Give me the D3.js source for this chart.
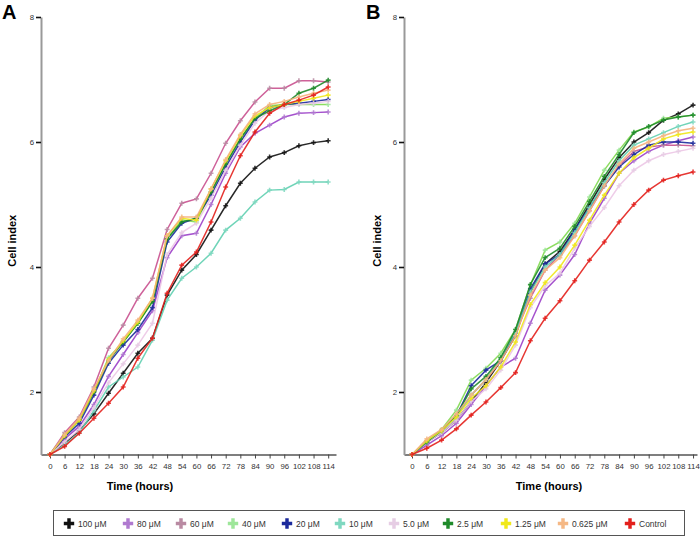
<!DOCTYPE html>
<html><head><meta charset="utf-8">
<script src="https://cdn.jsdelivr.net/npm/d3@7"></script>
<style>body{margin:0;background:#fff;} svg{display:block;font-family:"Liberation Sans",Arial,sans-serif;}</style>
</head><body><svg id="c" width="700" height="539"></svg>
<script>
const times = [0,6,12,18,24,30,36,42,48,54,60,66,72,78,84,90,96,102,108,114];
const seriesNames = ["100 \u03bcM","80 \u03bcM","60 \u03bcM","40 \u03bcM","20 \u03bcM","10 \u03bcM","5.0 \u03bcM","2.5 \u03bcM","1.25 \u03bcM","0.625 \u03bcM","Control"];
const lineColors = ["#111111","#9b3fc8","#c9508e","#7fd94f","#1c2a9c","#5fcfb0","#ecc6e6","#1f8a2a","#f0e81a","#f5b07a","#e3201c"];
const markerColors = ["#111111","#b07ad0","#b98aa2","#9ee69a","#1c2a9c","#7fd8c0","#e6cde4","#1f8a2a","#f0e81a","#f5b885","#e3201c"];
const yTicks = [2,4,6,8];
const xTicks = times;

const panelA = [
 [1.0,1.18,1.38,1.65,1.98,2.3,2.62,2.86,3.55,3.95,4.2,4.59,4.98,5.34,5.58,5.76,5.83,5.94,5.99,6.02],
 [1.0,1.25,1.45,1.8,2.25,2.6,2.95,3.3,4.15,4.5,4.54,5.0,5.5,5.92,6.14,6.27,6.4,6.46,6.47,6.48],
 [1.0,1.35,1.6,2.08,2.7,3.07,3.5,3.82,4.6,5.02,5.09,5.5,5.98,6.34,6.64,6.86,6.86,6.98,6.98,6.96],
 [1.0,1.3,1.55,2.0,2.55,2.8,3.1,3.45,4.45,4.75,4.72,5.2,5.65,6.05,6.38,6.58,6.6,6.6,6.6,6.6],
 [1.0,1.28,1.5,1.95,2.46,2.75,3.0,3.35,4.4,4.7,4.78,5.15,5.6,6.0,6.35,6.55,6.6,6.62,6.65,6.68],
 [1.0,1.15,1.35,1.7,2.08,2.24,2.4,2.83,3.47,3.82,4.0,4.22,4.59,4.78,5.04,5.23,5.24,5.36,5.36,5.36],
 [1.0,1.2,1.4,1.75,2.15,2.45,2.75,3.1,4.2,4.55,4.7,5.1,5.55,5.95,6.3,6.5,6.55,6.6,6.62,6.65],
 [1.0,1.3,1.55,2.0,2.5,2.8,3.1,3.45,4.45,4.72,4.78,5.2,5.65,6.05,6.38,6.5,6.6,6.78,6.86,6.99],
 [1.0,1.3,1.55,2.02,2.52,2.82,3.12,3.5,4.5,4.78,4.75,5.25,5.7,6.1,6.42,6.55,6.6,6.65,6.7,6.75],
 [1.0,1.32,1.58,2.05,2.5,2.85,3.15,3.5,4.5,4.8,4.8,5.25,5.72,6.12,6.45,6.6,6.65,6.72,6.78,6.83],
 [1.0,1.13,1.34,1.58,1.82,2.08,2.54,2.86,3.58,4.03,4.24,4.72,5.28,5.78,6.16,6.46,6.6,6.67,6.75,6.88]
];
const panelB = [
 [1.0,1.2,1.35,1.55,1.85,2.15,2.5,2.9,3.6,4.05,4.25,4.6,5.0,5.4,5.75,6.0,6.15,6.35,6.45,6.59],
 [1.0,1.15,1.3,1.5,1.8,2.1,2.4,2.54,3.1,3.63,3.87,4.2,4.7,5.1,5.5,5.7,5.85,5.95,6.02,6.08],
 [1.0,1.2,1.38,1.62,1.95,2.2,2.5,2.95,3.5,3.95,4.2,4.5,4.9,5.3,5.62,5.85,5.92,5.95,5.95,5.94],
 [1.0,1.22,1.4,1.71,2.19,2.38,2.62,3.0,3.71,4.27,4.4,4.7,5.12,5.55,5.87,6.16,6.24,6.38,6.4,6.43],
 [1.0,1.2,1.38,1.62,2.1,2.35,2.5,2.95,3.65,4.05,4.2,4.6,4.95,5.3,5.6,5.8,5.95,6.0,6.0,5.98],
 [1.0,1.2,1.38,1.6,1.95,2.2,2.55,2.95,3.6,4.0,4.2,4.55,4.95,5.35,5.7,5.95,6.05,6.15,6.25,6.32],
 [1.0,1.2,1.35,1.55,1.85,2.05,2.35,2.75,3.35,3.7,3.9,4.3,4.65,4.95,5.3,5.55,5.7,5.8,5.85,5.9],
 [1.0,1.2,1.38,1.62,2.05,2.25,2.55,3.0,3.72,4.15,4.3,4.65,5.05,5.45,5.8,6.15,6.25,6.35,6.4,6.43],
 [1.0,1.22,1.38,1.6,1.9,2.1,2.4,2.8,3.4,3.75,4.0,4.35,4.75,5.15,5.5,5.75,5.9,6.05,6.12,6.16],
 [1.0,1.25,1.4,1.65,1.95,2.2,2.5,2.9,3.55,3.95,4.15,4.5,4.9,5.3,5.65,5.9,6.0,6.1,6.18,6.22],
 [1.0,1.1,1.23,1.41,1.63,1.84,2.07,2.31,2.82,3.18,3.46,3.78,4.11,4.4,4.72,5.0,5.23,5.39,5.46,5.52]
];

const svg = d3.select("#c");

function panel(data, letter, xr, letterX, ylabX, tlabX){
  const x = d3.scaleLinear().domain([xr.d0, xr.d1]).range([xr.r0, xr.r1]);
  const y = d3.scaleLinear().domain([1,8]).range([454.5,17]);
  const g = svg.append("g");
  const xa = g.append("g").attr("transform",`translate(0,${y(1)})`)
    .call(d3.axisBottom(x).tickValues(xTicks).tickSize(4).tickSizeOuter(0));
  xa.select(".domain").attr("stroke","#555").attr("stroke-width",1.6);
  xa.selectAll(".tick line").attr("stroke","#444").attr("stroke-width",1);
  xa.selectAll(".tick text").attr("font-size",7.8).attr("fill","#333").attr("dy","0.9em")
    .attr("font-family","Liberation Sans, Arial, sans-serif");
  const ya = g.append("g").attr("transform",`translate(${x(xr.d0)},0)`)
    .call(d3.axisLeft(y).tickValues(yTicks).tickFormat(d3.format("d")).tickSize(5).tickSizeOuter(0));
  ya.select(".domain").attr("stroke","#999").attr("stroke-width",2);
  ya.selectAll(".tick line").attr("stroke","#111").attr("stroke-width",1.6);
  ya.selectAll(".tick text").attr("font-size",7.8).attr("fill","#333").attr("x",-7)
    .attr("font-family","Liberation Sans, Arial, sans-serif");
  const line = d3.line().x((d,i)=>x(times[i])).y(d=>y(d));
  data.forEach((s,k)=>{
    g.append("path").datum(s).attr("d",line).attr("fill","none")
      .attr("stroke",lineColors[k]).attr("stroke-width",1.5).attr("stroke-opacity",0.9);
    g.selectAll(null).data(s).enter().append("path")
      .attr("transform",(d,i)=>`translate(${x(times[i])},${y(d)})`)
      .attr("d",d3.symbol(d3.symbolCross,13))
      .attr("fill",markerColors[k]).attr("opacity",0.85);
  });
  svg.append("text").attr("x",letterX).attr("y",19).attr("font-size",20).attr("font-weight","bold").text(letter);
  svg.append("text").attr("transform",`translate(${ylabX},${(y(1)+y(8))/2+5}) rotate(-90)`)
    .attr("text-anchor","middle").attr("font-size",11).attr("font-weight","bold").text("Cell index");
  svg.append("text").attr("x",tlabX).attr("y",490).attr("text-anchor","middle")
    .attr("font-size",11).attr("font-weight","bold").text("Time (hours)");
}

panel(panelA,"A",{d0:-3.68,d1:117.2,r0:41,r1:336},2,16,140);
panel(panelB,"B",{d0:-3.25,d1:115.6,r0:404,r1:697},366,381,549);

const lg = svg.append("g");
lg.append("rect").attr("x",53.5).attr("y",510.5).attr("width",631).attr("height",25)
  .attr("fill","#fff").attr("stroke","#555").attr("stroke-width",1);
const legX = [69,128,181,233,287,340,394,448,506,563,630];
seriesNames.forEach((n,k)=>{
  lg.append("path").attr("transform",`translate(${legX[k]},${523.5})`)
    .attr("d",d3.symbol(d3.symbolCross,60)).attr("fill",markerColors[k]);
  lg.append("text").attr("x",legX[k]+9).attr("y",526.5).attr("font-size",8.5).attr("fill","#333").text(n);
});
</script></body></html>
